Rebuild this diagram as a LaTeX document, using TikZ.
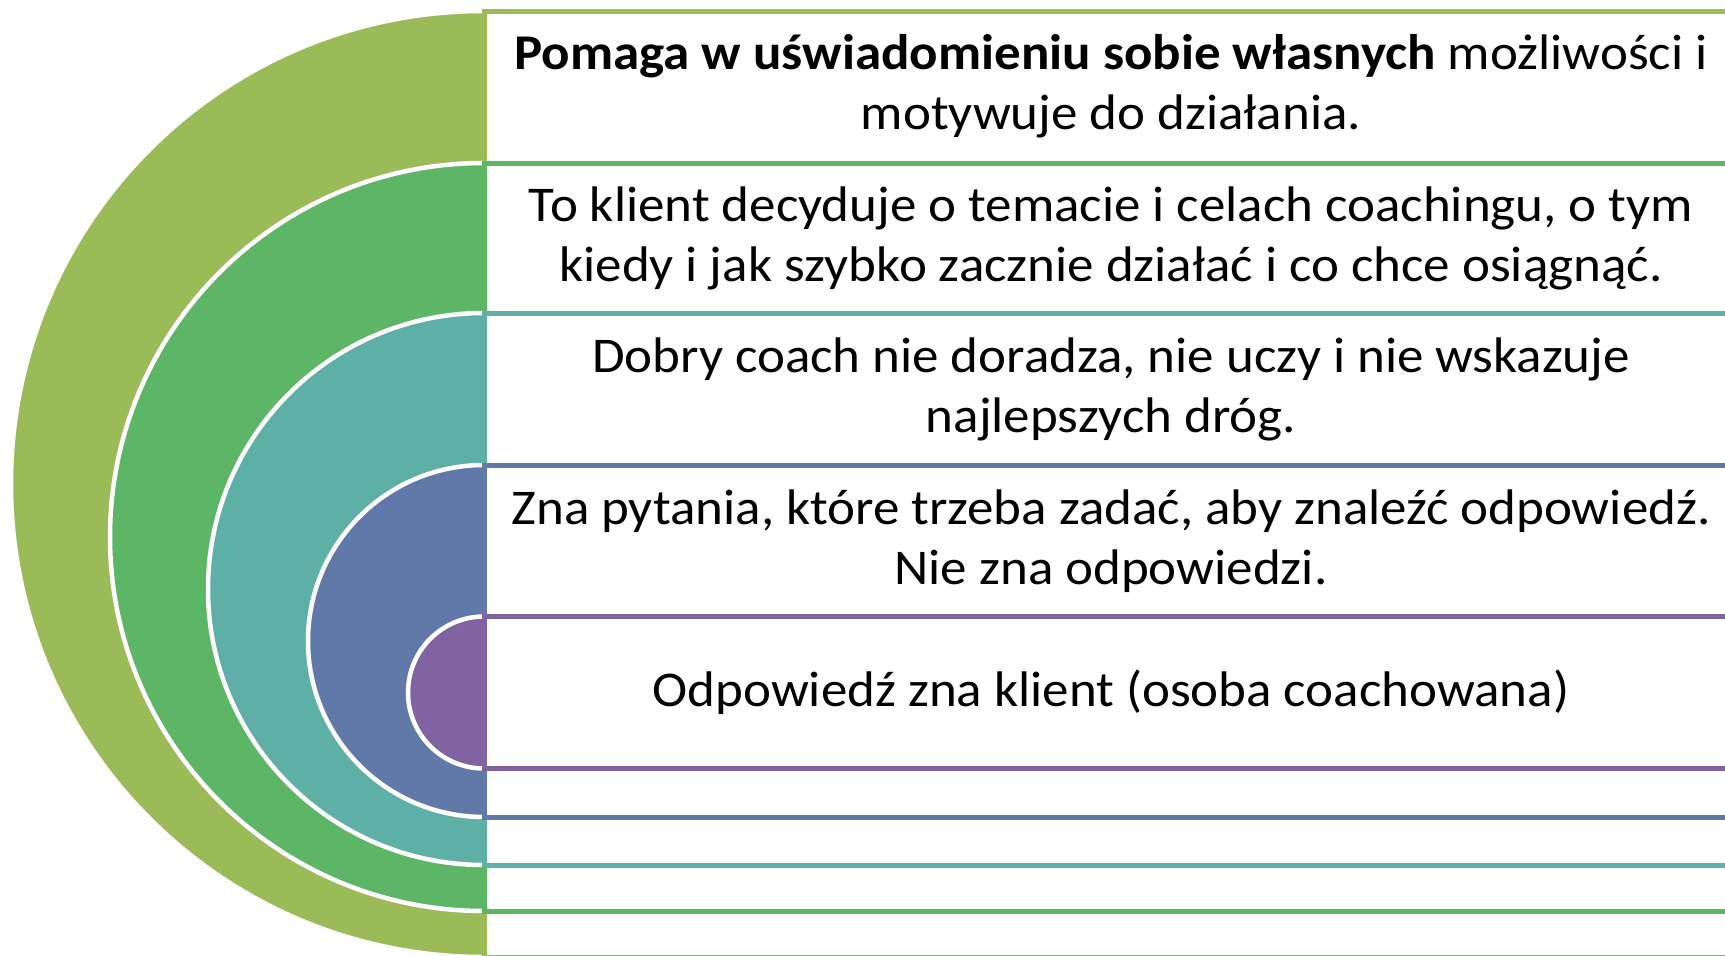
\documentclass[tikz,border=0pt]{standalone}
\usepackage{fontspec}
\setmainfont[FakeStretch=1.06]{Carlito}
\definecolor{lvA}{HTML}{9BBB59}
\definecolor{lvB}{HTML}{5DB566}
\definecolor{lvC}{HTML}{5EAFA6}
\definecolor{lvD}{HTML}{6079A9}
\definecolor{lvE}{HTML}{8064A2}
\newcommand\drawlevel[3]{%
  \fill[#1] (484,#2-#3) arc[start angle=270,end angle=90,radius=#3] -- cycle;
  \draw[white,line width=4.5] (484,#2-#3) arc[start angle=270,end angle=90,radius=#3];
  \draw[#1,fill=white,line width=5] (484,#2-#3) rectangle (1740,#2+#3);
}
\tikzset{txt/.style={align=center,font=\fontsize{50}{60}\selectfont,text=black,inner sep=0pt}}
\begin{document}
\begin{tikzpicture}[x=1pt,y=-1pt]
\useasboundingbox (0,0) rectangle (1725,956);
\clip (0,0) rectangle (1725,956);
\drawlevel{lvA}{484}{473}
\drawlevel{lvB}{537}{374}
\drawlevel{lvC}{589}{276}
\drawlevel{lvD}{641}{176}
\drawlevel{lvE}{692.5}{76}
\node[txt] (t1) at (1111,86.5) {\textbf{Pomaga w uświadomieniu sobie własnych} możliwości i\\motywuje do działania.};
\node[txt] (t2) at (1111,238) {To klient decyduje o temacie i celach coachingu, o tym\\kiedy i jak szybko zacznie działać i co chce osiągnąć.};
\node[txt] (t3) at (1111,389) {Dobry coach nie doradza, nie uczy i nie wskazuje\\najlepszych dróg.};
\node[txt] (t4) at (1111,541) {Zna pytania, które trzeba zadać, aby znaleźć odpowiedź.\\Nie zna odpowiedzi.};
\node[txt] (t5) at (1111,692.5) {Odpowiedź zna klient (osoba coachowana)};
\end{tikzpicture}
\end{document}
